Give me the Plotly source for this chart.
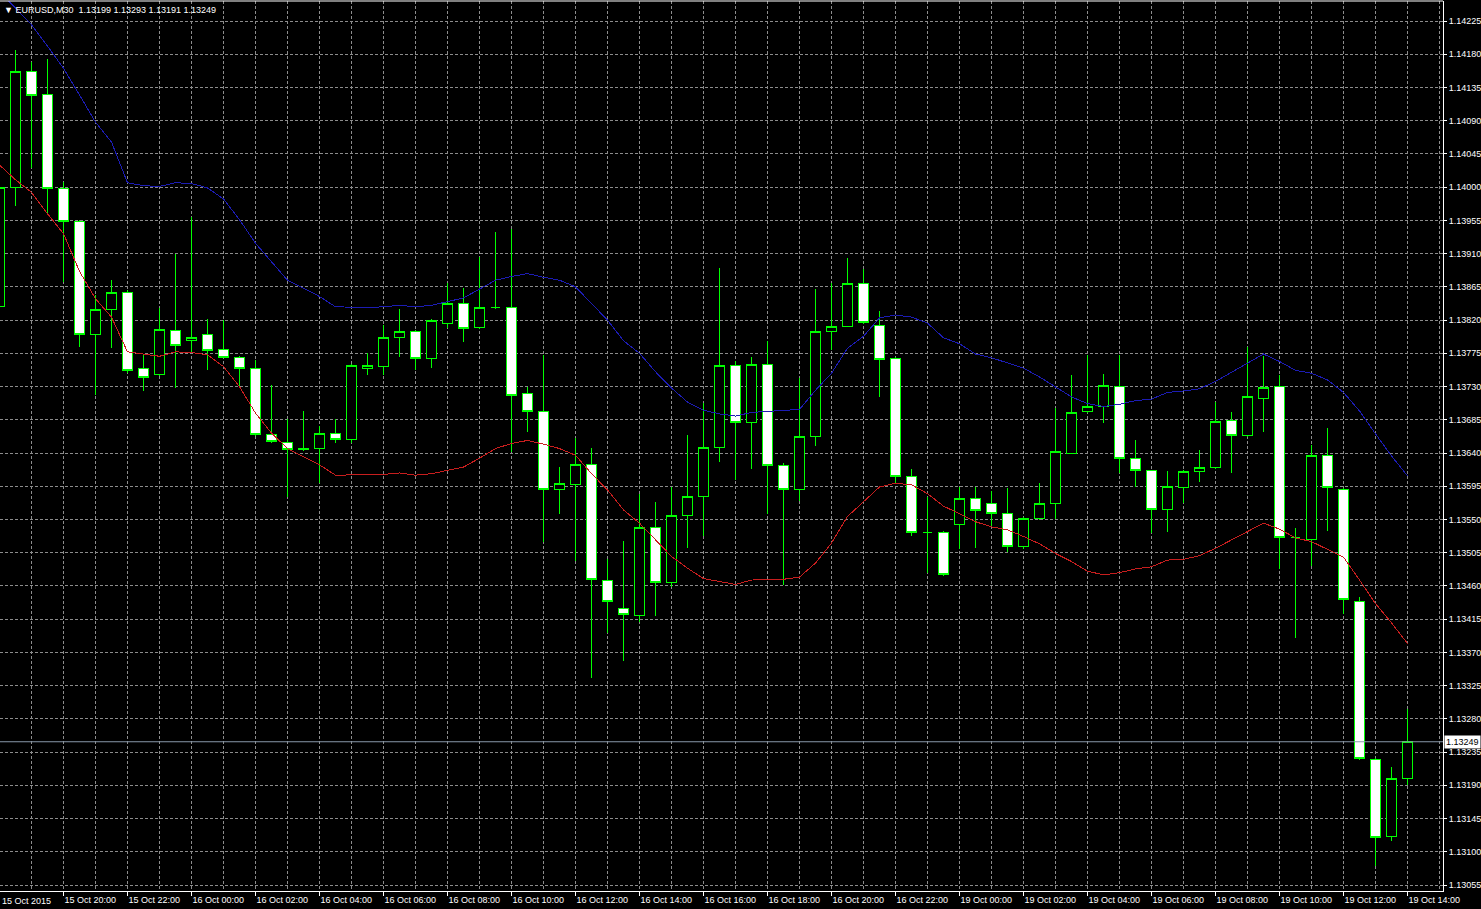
import pandas as pd
import plotly.graph_objects as go

# ---- data (EURUSD M30) ----
session1 = pd.date_range("2015-10-15 18:00", "2015-10-16 23:30", freq="30min")
session2 = pd.date_range("2015-10-19 00:00", "2015-10-19 14:00", freq="30min")
bar_times = list(session1) + list(session2)

opens = [1.13839, 1.14000, 1.14156, 1.14125, 1.13998, 1.13954, 1.13801, 1.13835, 1.13858, 1.13755,
         1.13747, 1.13806, 1.13793, 1.13801, 1.13780, 1.13769, 1.13755, 1.13665, 1.13654, 1.13645,
         1.13646, 1.13667, 1.13658, 1.13755, 1.13757, 1.13797, 1.13804, 1.13768, 1.13816, 1.13843,
         1.13810, 1.13837, 1.13837, 1.13720, 1.13696, 1.13590, 1.13598, 1.13625, 1.13468, 1.13430,
         1.13420, 1.13539, 1.13465, 1.13556, 1.13581, 1.13648, 1.13759, 1.13682, 1.13760, 1.13623,
         1.13590, 1.13662, 1.13805, 1.13812, 1.13870, 1.13813, 1.13768, 1.13608, 1.13533, 1.13532,
         1.13543, 1.13579, 1.13572, 1.13558, 1.13513, 1.13551, 1.13571, 1.13640, 1.13696, 1.13703,
         1.13730, 1.13632, 1.13616, 1.13563, 1.13593, 1.13615, 1.13621, 1.13684, 1.13664, 1.13714,
         1.13730, 1.13525, 1.13523, 1.13636, 1.13591, 1.13439, 1.13225, 1.13121, 1.13199]
highs = [1.14010, 1.14186, 1.14170, 1.14173, 1.14007, 1.13956, 1.13854, 1.13874, 1.13861, 1.13773,
         1.13837, 1.13910, 1.13959, 1.13822, 1.13820, 1.13772, 1.13766, 1.13732, 1.13686, 1.13697,
         1.13676, 1.13686, 1.13760, 1.13775, 1.13813, 1.13835, 1.13806, 1.13821, 1.13870, 1.13863,
         1.13905, 1.13939, 1.13944, 1.13729, 1.13773, 1.13621, 1.13661, 1.13647, 1.13496, 1.13521,
         1.13585, 1.13573, 1.13594, 1.13664, 1.13708, 1.13890, 1.13765, 1.13770, 1.13792, 1.13627,
         1.13742, 1.13862, 1.13870, 1.13904, 1.13889, 1.13832, 1.13770, 1.13618, 1.13581, 1.13535,
         1.13594, 1.13594, 1.13588, 1.13592, 1.13554, 1.13599, 1.13701, 1.13746, 1.13773, 1.13747,
         1.13773, 1.13658, 1.13617, 1.13616, 1.13617, 1.13644, 1.13709, 1.13696, 1.13783, 1.13771,
         1.13746, 1.13538, 1.13651, 1.13674, 1.13593, 1.13445, 1.13227, 1.13215, 1.13293]
lows = [1.13830, 1.13975, 1.14026, 1.13962, 1.13872, 1.13784, 1.13719, 1.13782, 1.13748, 1.13724,
        1.13744, 1.13728, 1.13775, 1.13752, 1.13768, 1.13730, 1.13663, 1.13654, 1.13581, 1.13643,
        1.13599, 1.13654, 1.13654, 1.13745, 1.13745, 1.13770, 1.13752, 1.13755, 1.13809, 1.13791,
        1.13808, 1.13835, 1.13641, 1.13668, 1.13519, 1.13557, 1.13494, 1.13335, 1.13396, 1.13359,
        1.13411, 1.13419, 1.13459, 1.13512, 1.13527, 1.13628, 1.13604, 1.13618, 1.13558, 1.13461,
        1.13575, 1.13649, 1.13779, 1.13810, 1.13815, 1.13716, 1.13599, 1.13528, 1.13477, 1.13473,
        1.13510, 1.13512, 1.13541, 1.13506, 1.13510, 1.13549, 1.13550, 1.13638, 1.13694, 1.13680,
        1.13613, 1.13594, 1.13532, 1.13533, 1.13572, 1.13601, 1.13619, 1.13613, 1.13662, 1.13668,
        1.13483, 1.13389, 1.13487, 1.13534, 1.13422, 1.13224, 1.13081, 1.13115, 1.13191]
closes = [1.14000, 1.14156, 1.14124, 1.13998, 1.13954, 1.13800, 1.13835, 1.13858, 1.13752, 1.13742,
          1.13807, 1.13786, 1.13797, 1.13779, 1.13770, 1.13755, 1.13665, 1.13656, 1.13645, 1.13646,
          1.13667, 1.13658, 1.13759, 1.13759, 1.13797, 1.13804, 1.13768, 1.13819, 1.13843, 1.13809,
          1.13837, 1.13837, 1.13718, 1.13696, 1.13590, 1.13599, 1.13625, 1.13469, 1.13439, 1.13422,
          1.13539, 1.13465, 1.13556, 1.13581, 1.13648, 1.13759, 1.13682, 1.13760, 1.13623, 1.13590,
          1.13662, 1.13805, 1.13811, 1.13870, 1.13817, 1.13766, 1.13608, 1.13533, 1.13533, 1.13475,
          1.13579, 1.13562, 1.13558, 1.13513, 1.13551, 1.13571, 1.13642, 1.13695, 1.13703, 1.13732,
          1.13632, 1.13616, 1.13563, 1.13594, 1.13615, 1.13620, 1.13683, 1.13664, 1.13716, 1.13729,
          1.13525, 1.13525, 1.13637, 1.13593, 1.13441, 1.13226, 1.13120, 1.13199, 1.13249]

upper_env = [1.14265, 1.14242, 1.14220, 1.14191, 1.14161, 1.14125, 1.14088, 1.14061, 1.14006, 1.14002,
             1.14001, 1.14006, 1.14005, 1.13999, 1.13984, 1.13956, 1.13924, 1.13899, 1.13874, 1.13863,
             1.13852, 1.13838, 1.13837, 1.13837, 1.13838, 1.13840, 1.13838, 1.13840, 1.13845, 1.13850,
             1.13862, 1.13874, 1.13879, 1.13883, 1.13878, 1.13874, 1.13865, 1.13843, 1.13820, 1.13792,
             1.13775, 1.13750, 1.13728, 1.13709, 1.13698, 1.13693, 1.13690, 1.13695, 1.13696, 1.13698,
             1.13699, 1.13725, 1.13748, 1.13782, 1.13798, 1.13823, 1.13827, 1.13824, 1.13816, 1.13796,
             1.13788, 1.13774, 1.13769, 1.13762, 1.13755, 1.13743, 1.13730, 1.13716, 1.13707, 1.13703,
             1.13706, 1.13711, 1.13713, 1.13722, 1.13724, 1.13727, 1.13737, 1.13749, 1.13761, 1.13774,
             1.13764, 1.13752, 1.13748, 1.13739, 1.13722, 1.13697, 1.13666, 1.13636, 1.13609]
lower_env = [1.14030, 1.14010, 1.13993, 1.13964, 1.13937, 1.13886, 1.13849, 1.13824, 1.13777, 1.13774,
             1.13771, 1.13777, 1.13776, 1.13773, 1.13757, 1.13730, 1.13694, 1.13667, 1.13646, 1.13635,
             1.13624, 1.13610, 1.13610, 1.13610, 1.13611, 1.13613, 1.13610, 1.13612, 1.13617, 1.13621,
             1.13633, 1.13646, 1.13653, 1.13657, 1.13652, 1.13646, 1.13637, 1.13612, 1.13590, 1.13563,
             1.13545, 1.13522, 1.13500, 1.13484, 1.13470, 1.13466, 1.13462, 1.13468, 1.13469, 1.13469,
             1.13472, 1.13491, 1.13518, 1.13554, 1.13574, 1.13594, 1.13599, 1.13597, 1.13585, 1.13568,
             1.13558, 1.13547, 1.13540, 1.13536, 1.13527, 1.13517, 1.13504, 1.13493, 1.13480, 1.13475,
             1.13478, 1.13483, 1.13486, 1.13495, 1.13496, 1.13501, 1.13511, 1.13522, 1.13533, 1.13545,
             1.13537, 1.13525, 1.13520, 1.13510, 1.13499, 1.13468, 1.13436, 1.13410, 1.13382]

symbol_title = "EURUSD,M30"
current_price = 1.13249
price_tick0 = 1.13055
price_step = 0.00045
first_label = "15 Oct 2015"

# ---- derived ----
n = len(closes)
xs = list(range(n))
label_bars = list(range(4, n, 4))
label_text = [f"{bar_times[i].day} {bar_times[i].strftime('%b %H:%M')}" for i in label_bars]
minor_bars = list(range(2, n + 3, 4))
price_ticks = [round(price_tick0 + k * price_step, 5) for k in range(27)]

FONT = "Liberation Sans, Arial, sans-serif"
GRID = "#8c8c8c"
GREEN = "#00ff00"

fig = go.Figure()
fig.add_trace(go.Scatter(x=xs, y=upper_env, mode="lines",
                         line=dict(color="#1c1cb4", width=1), hoverinfo="skip"))
fig.add_trace(go.Scatter(x=xs, y=lower_env, mode="lines",
                         line=dict(color="#c81e1e", width=1), hoverinfo="skip"))
fig.add_trace(go.Candlestick(
    x=xs, open=opens, high=highs, low=lows, close=closes,
    increasing=dict(line=dict(color=GREEN, width=1), fillcolor="#000000"),
    decreasing=dict(line=dict(color=GREEN, width=1), fillcolor="#ffffff"),
    whiskerwidth=0, hoverinfo="skip"))

fig.add_hline(y=current_price, line=dict(color="#8899aa", width=1))

fig.update_layout(
    width=1481, height=909,
    margin=dict(l=0, r=38, t=1, b=18),
    paper_bgcolor="#000000", plot_bgcolor="#000000",
    showlegend=False, boxgap=0.4, boxgroupgap=0,
    font=dict(family=FONT, size=9, color="#ffffff"),
    hovermode=False,
)
fig.update_xaxes(
    type="linear", range=[0.03125, 90.21875], rangeslider=dict(visible=False),
    tickmode="array", tickvals=label_bars, ticktext=label_text,
    ticklabelposition="outside right",
    ticks="outside", ticklen=4, tickcolor="#ffffff",
    tickfont=dict(family=FONT, size=9, color="#ffffff"),
    showline=True, linecolor="#ffffff", linewidth=1,
    showgrid=True, gridcolor=GRID, gridwidth=1, griddash="3px,2px",
    minor=dict(tickmode="array", tickvals=minor_bars, showgrid=True,
               gridcolor=GRID, gridwidth=1, griddash="3px,2px", ticks=""),
    zeroline=False, fixedrange=True,
)
fig.update_yaxes(
    side="right", range=[1.130469, 1.142521],
    tickmode="array", tickvals=price_ticks, ticktext=[f"{v:.5f}" for v in price_ticks],
    ticks="outside", ticklen=3, tickcolor="#ffffff",
    tickfont=dict(family=FONT, size=9, color="#ffffff"),
    showline=True, linecolor="#ffffff", linewidth=1,
    showgrid=True, gridcolor=GRID, gridwidth=1, griddash="3px,2px",
    zeroline=False, fixedrange=True,
)

# top border
fig.add_shape(type="line", xref="paper", yref="paper", x0=0, x1=1, y0=1, y1=1,
              line=dict(color="#ffffff", width=1))

# title
fig.add_annotation(xref="paper", yref="paper", x=0, y=1, xanchor="left", yanchor="top",
                   xshift=2, yshift=-2, showarrow=False,
                   text="\u25bc\u00a0" + symbol_title + "\u00a0\u00a0"
                        + " ".join(f"{v:.5f}" for v in [opens[-1], highs[-1], lows[-1], closes[-1]]),
                   font=dict(family=FONT, size=9, color="#ffffff"))
# first date label
fig.add_annotation(xref="paper", yref="paper", x=0, y=0, xanchor="left", yanchor="top",
                   yshift=-3, showarrow=False, text=first_label,
                   font=dict(family=FONT, size=9, color="#ffffff"))
# current price box
fig.add_annotation(xref="paper", yref="y", x=1, y=current_price, xanchor="left", yanchor="middle",
                   xshift=1, showarrow=False, text=f"{current_price:.5f}",
                   bgcolor="#ffffff", borderpad=1,
                   font=dict(family=FONT, size=9, color="#000000"))

crisp_css = ("var s=document.createElement('style');"
             "s.textContent='.boxlayer path,.scatterlayer path{shape-rendering:crispEdges}';"
             "document.head.appendChild(s);"
             "document.body.style.margin='0';document.body.style.overflow='hidden';")
fig.write_html("out.html", config={"displayModeBar": False}, post_script=crisp_css)
